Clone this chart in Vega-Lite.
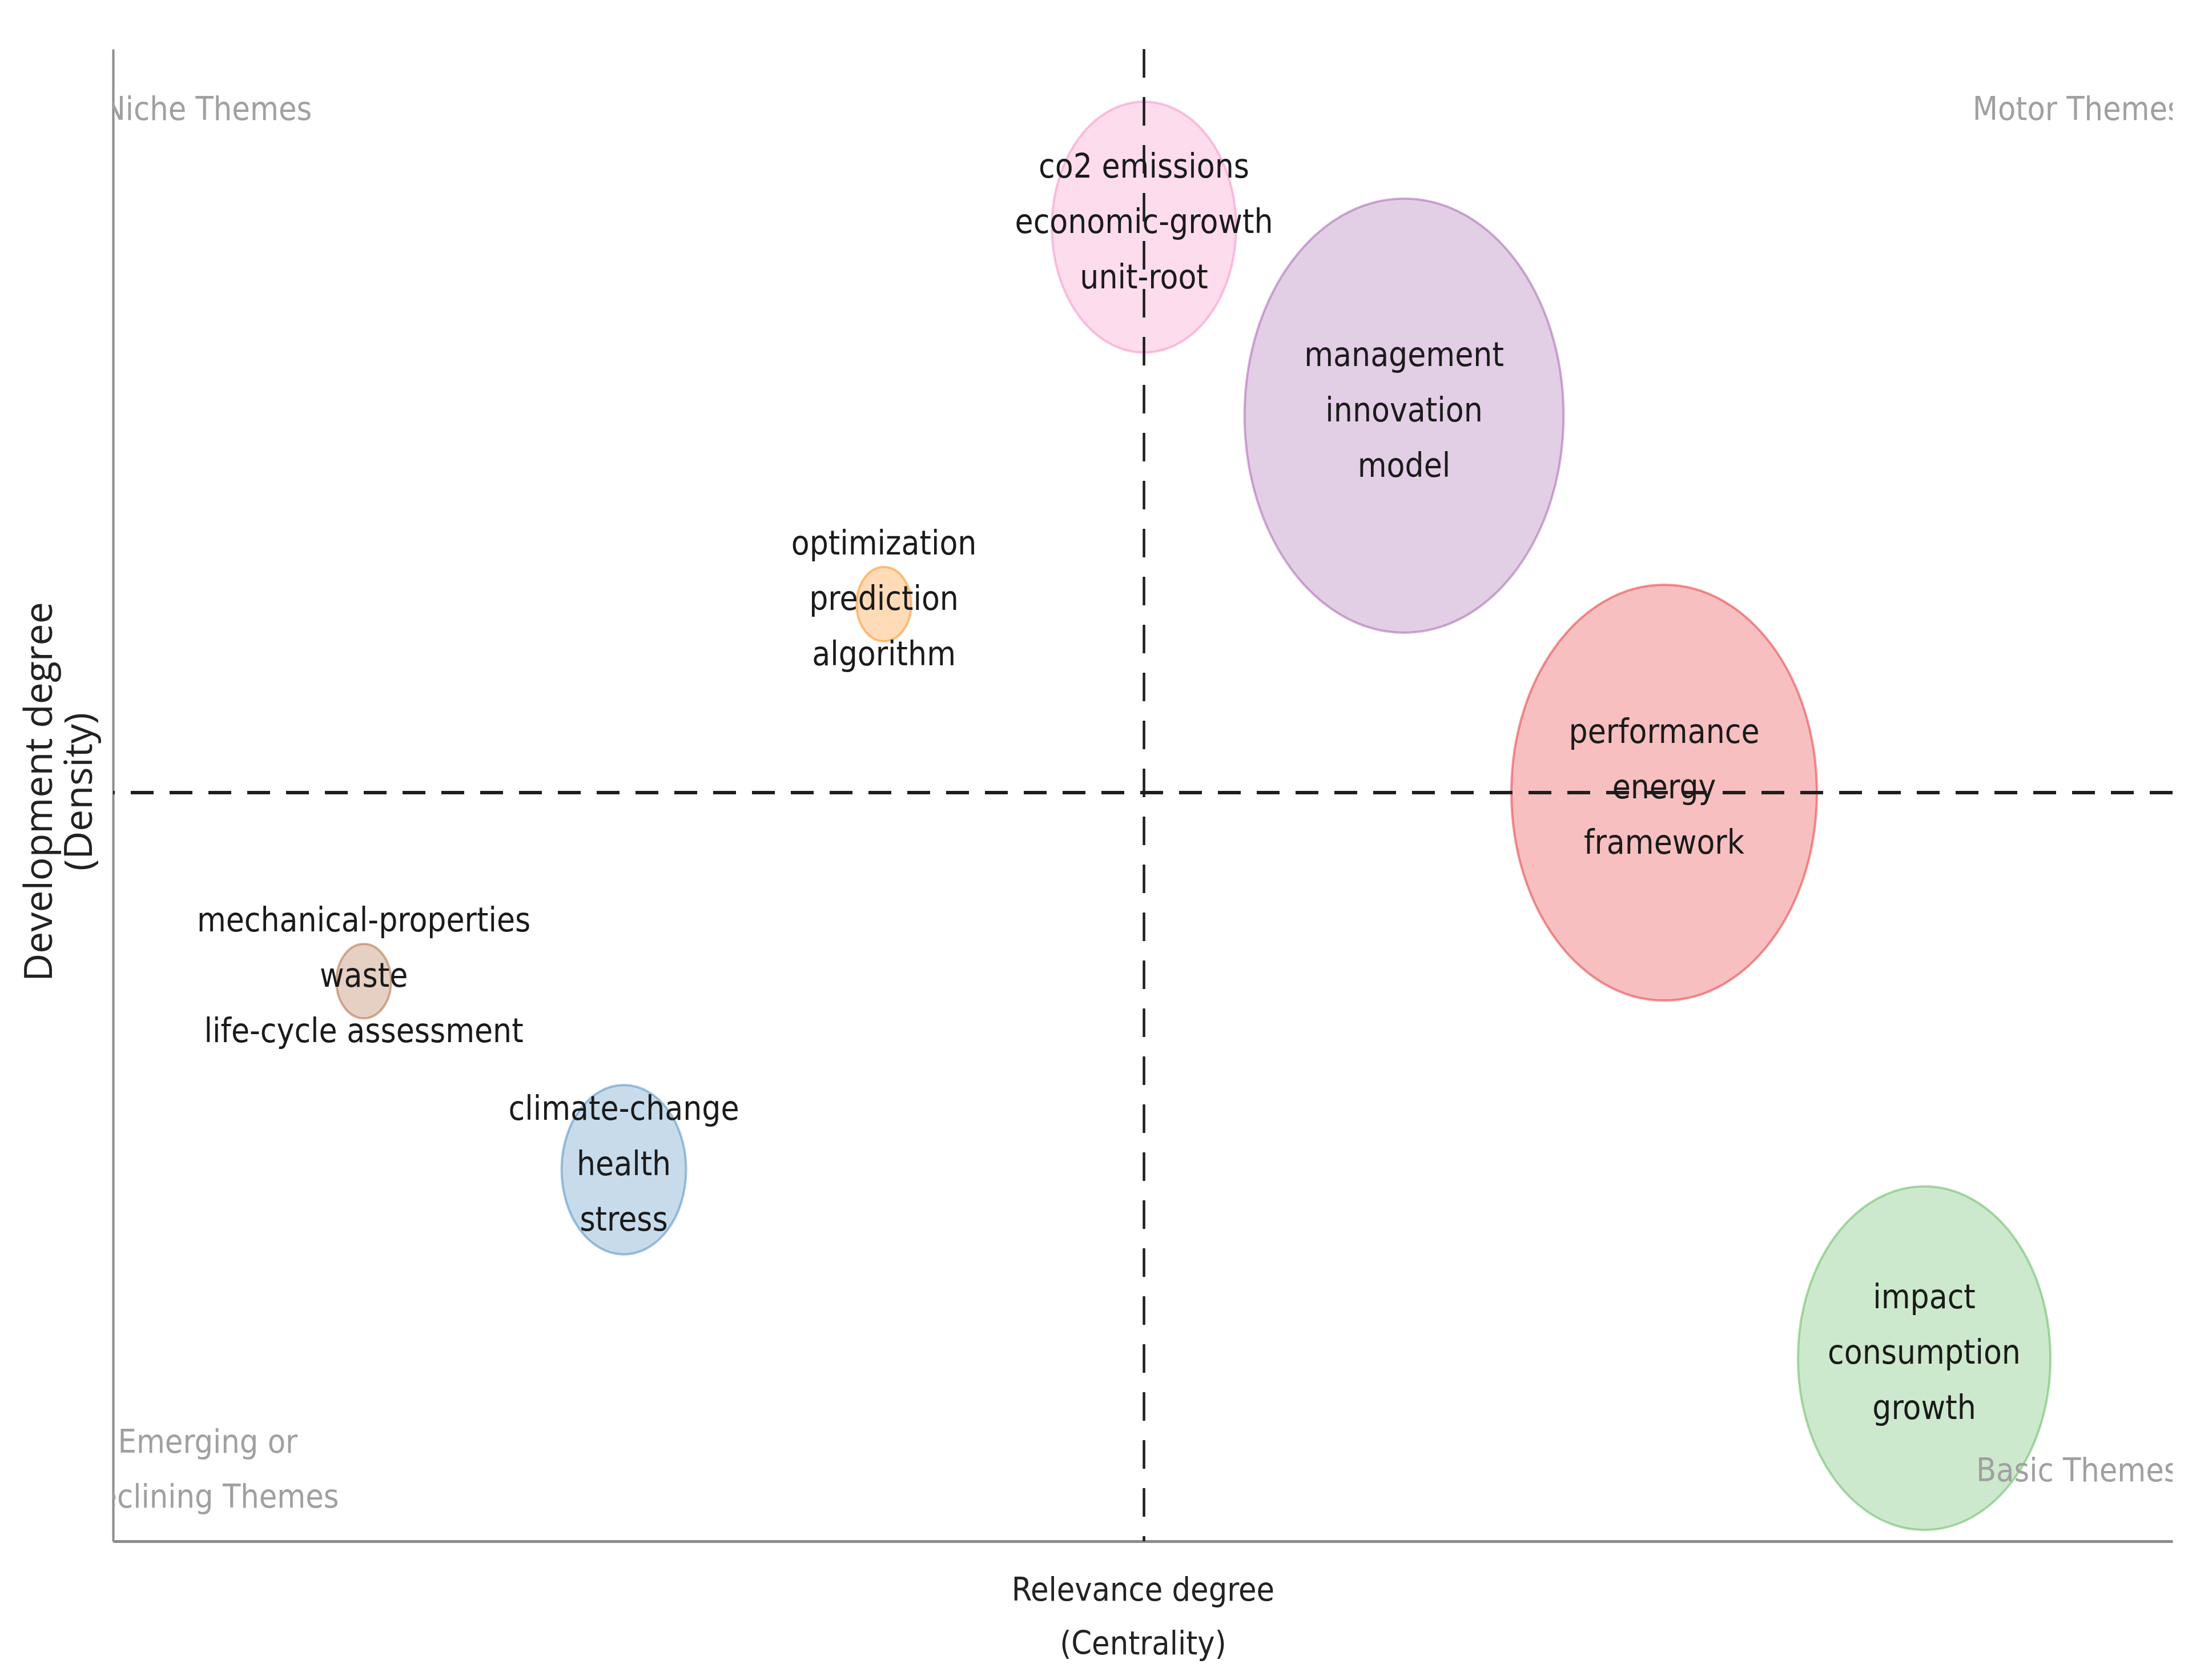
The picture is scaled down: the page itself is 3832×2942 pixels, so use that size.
{
  "$schema": "https://vega.github.io/schema/vega-lite/v6.json",
  "width": 3607,
  "height": 2613,
  "autosize": {"type": "none"},
  "padding": {"left": 198, "top": 86, "right": 27, "bottom": 243},
  "background": "white",
  "config": {"view": {"stroke": null}},
  "datasets": {
    "themes": [
      {"cluster": "performance", "label": "performance\nenergy\nframework", "centrality": 6, "density": 4, "occurrences": 530},
      {"cluster": "climate-change", "label": "climate-change\nhealth\nstress", "centrality": 2, "density": 2, "occurrences": 88},
      {"cluster": "impact", "label": "impact\nconsumption\ngrowth", "centrality": 7, "density": 1, "occurrences": 362},
      {"cluster": "management", "label": "management\ninnovation\nmodel", "centrality": 5, "density": 6, "occurrences": 578},
      {"cluster": "optimization", "label": "optimization\nprediction\nalgorithm", "centrality": 3, "density": 5, "occurrences": 17},
      {"cluster": "mechanical-properties", "label": "mechanical-properties\nwaste\nlife-cycle assessment", "centrality": 1, "density": 3, "occurrences": 17},
      {"cluster": "co2 emissions", "label": "co2 emissions\neconomic-growth\nunit-root", "centrality": 4, "density": 7, "occurrences": 193}
    ],
    "medians": [{"centrality": 4, "density": 4}],
    "quadrants": [
      {"label": "Niche Themes", "centrality": 0.40, "density": 7.62},
      {"label": "Motor Themes", "centrality": 7.59, "density": 7.62},
      {"label": "Emerging or\nDeclining Themes", "centrality": 0.40, "density": 0.55},
      {"label": "Basic Themes", "centrality": 7.59, "density": 0.40}
    ]
  },
  "layer": [
    {
      "data": {"name": "themes"},
      "mark": {
        "type": "point",
        "filled": true,
        "shape": "M -0.735 0 A 0.735 1 0 1 1 0.735 0 A 0.735 1 0 1 1 -0.735 0 Z",
        "opacity": 1,
        "fillOpacity": 0.28,
        "strokeOpacity": 0.45,
        "strokeWidth": 4
      },
      "encoding": {
        "x": {
          "field": "centrality", "type": "quantitative",
          "scale": {"domain": [0.036, 7.955], "nice": false, "zero": false},
          "axis": {
            "title": ["Relevance degree", "(Centrality)"],
            "ticks": false, "labels": false, "grid": false,
            "domainColor": "#8c8c8c", "domainWidth": 5,
            "titleFont": "DejaVu Sans Condensed",
            "titleFontSize": 57, "titleFontWeight": "normal", "titleColor": "#222222",
            "titleLineHeight": 94, "titleBaseline": "middle", "titleY": 86
          }
        },
        "y": {
          "field": "density", "type": "quantitative",
          "scale": {"domain": [0.029, 7.944], "nice": false, "zero": false},
          "axis": {
            "title": ["Development degree", "(Density)"],
            "ticks": false, "labels": false, "grid": false,
            "domainColor": "#8c8c8c", "domainWidth": 4,
            "titleFont": "Open Sans",
            "titleFontSize": 68, "titleFontWeight": "normal", "titleColor": "#222222",
            "titleLineHeight": 70, "titleBaseline": "middle", "titleAlign": "center",
            "titleAngle": -90, "titleX": -128, "titleY": 1300
          }
        },
        "color": {
          "field": "cluster", "type": "nominal", "legend": null,
          "scale": {
            "domain": ["performance", "climate-change", "impact", "management", "optimization", "mechanical-properties", "co2 emissions"],
            "range": ["#E41A1C", "#377EB8", "#4DAF4A", "#984EA3", "#FF7F00", "#A65628", "#F781BF"]
          }
        },
        "stroke": {
          "field": "cluster", "type": "nominal", "legend": null,
          "scale": {
            "domain": ["performance", "climate-change", "impact", "management", "optimization", "mechanical-properties", "co2 emissions"],
            "range": ["#E41A1C", "#377EB8", "#4DAF4A", "#984EA3", "#FF7F00", "#A65628", "#F781BF"]
          }
        },
        "size": {
          "field": "occurrences", "type": "quantitative", "legend": null,
          "scale": {"type": "linear", "domain": [0, 1000], "range": [0, 1000000]}
        }
      }
    },
    {
      "data": {"name": "medians"},
      "mark": {"type": "rule", "strokeDash": [50, 34], "strokeWidth": 4.5, "color": "#1e1e1e"},
      "encoding": {
        "x": {"field": "centrality", "type": "quantitative"}
      }
    },
    {
      "data": {"name": "medians"},
      "mark": {"type": "rule", "strokeDash": [40, 28], "strokeWidth": 6, "color": "#1e1e1e"},
      "encoding": {
        "y": {"field": "density", "type": "quantitative"}
      }
    },
    {
      "data": {"name": "themes"},
      "mark": {
        "type": "text",
        "font": "DejaVu Sans Condensed",
        "fontSize": 58, "lineHeight": 97, "lineBreak": "\n", "dy": -104,
        "align": "center", "baseline": "middle", "color": "#1a1a1a"
      },
      "encoding": {
        "x": {"field": "centrality", "type": "quantitative"},
        "y": {"field": "density", "type": "quantitative"},
        "text": {"field": "label", "type": "nominal"}
      }
    },
    {
      "data": {"name": "quadrants"},
      "mark": {
        "type": "text",
        "font": "DejaVu Sans Condensed",
        "fontSize": 57, "lineHeight": 96, "lineBreak": "\n",
        "align": "center", "baseline": "middle", "color": "#a0a0a0", "clip": true
      },
      "encoding": {
        "x": {"field": "centrality", "type": "quantitative"},
        "y": {"field": "density", "type": "quantitative"},
        "text": {"field": "label", "type": "nominal"}
      }
    }
  ]
}
